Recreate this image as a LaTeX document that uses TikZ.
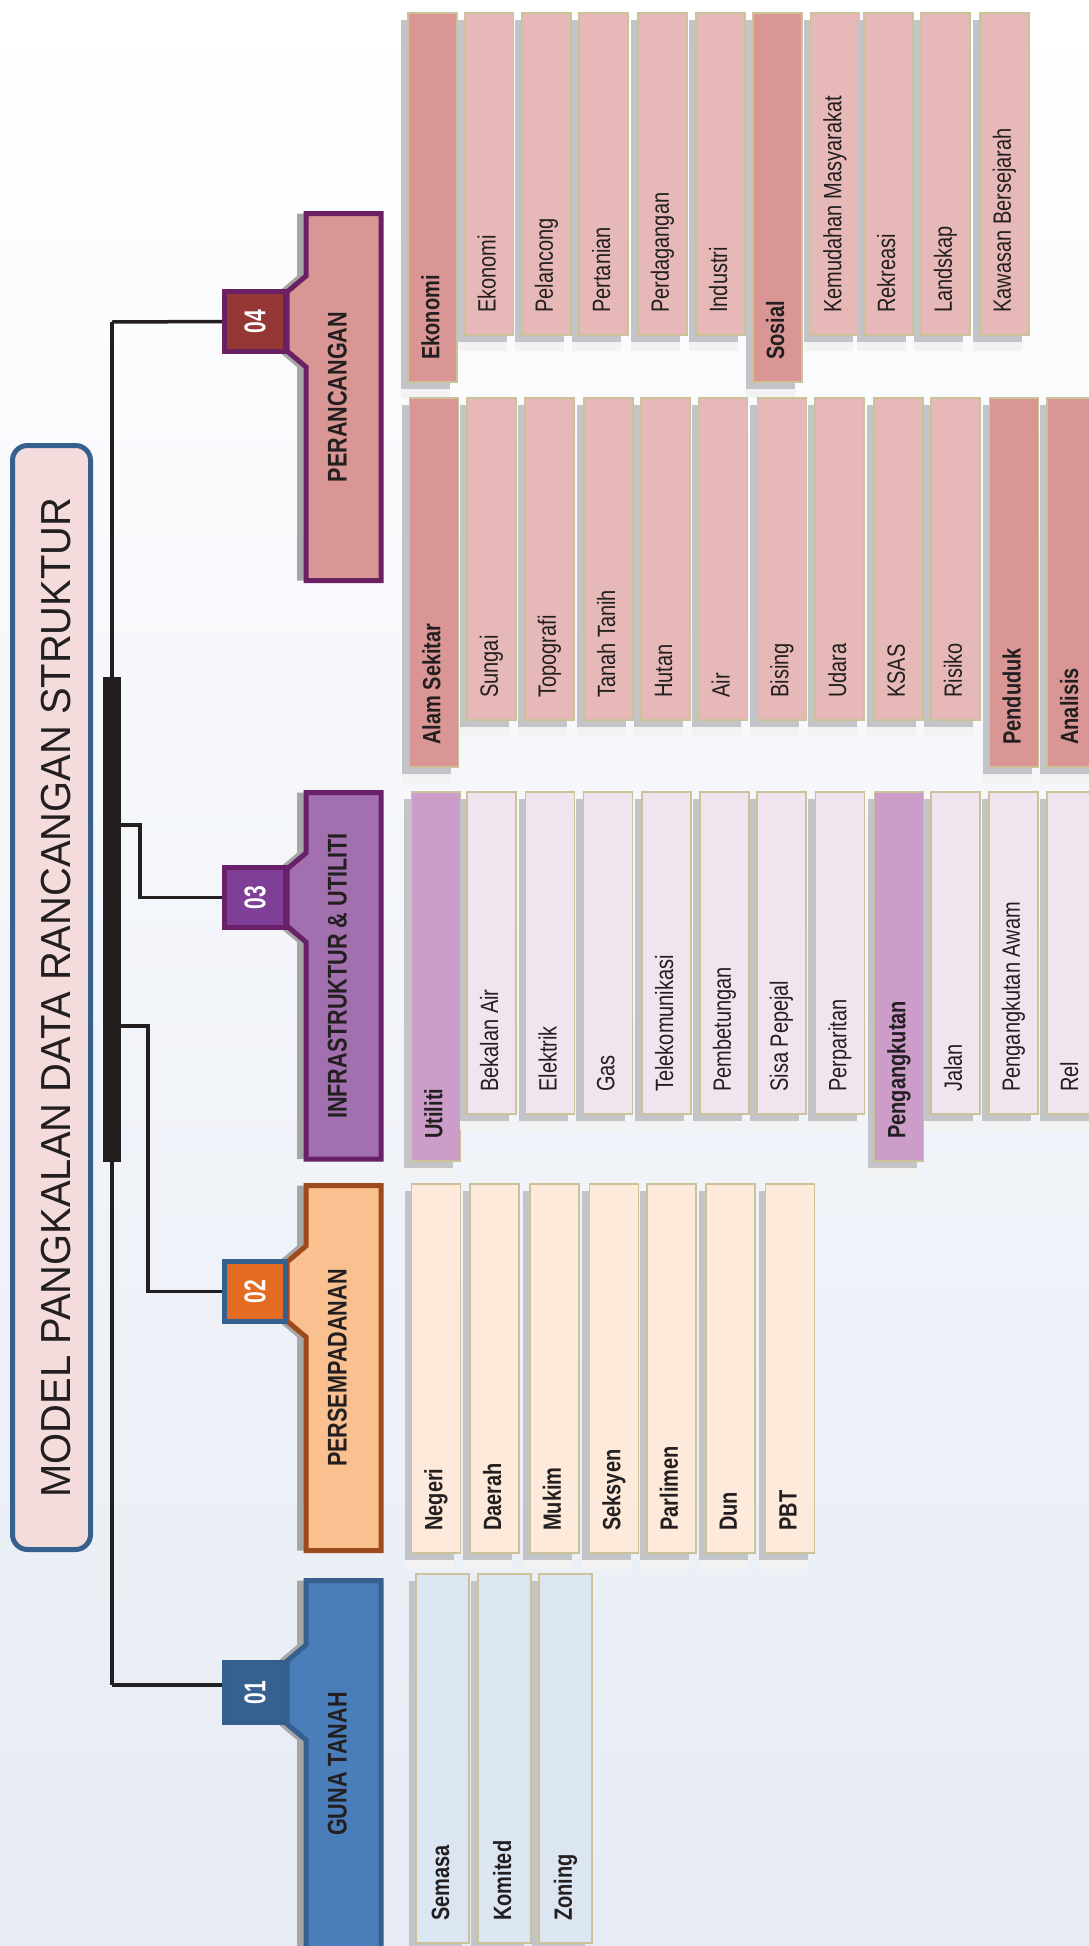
\documentclass[tikz,border=0pt]{standalone}
\usepackage{fontspec}
\setmainfont{Liberation Sans}
\usepackage{graphicx}
\usetikzlibrary{shadows}

\definecolor{ink}{HTML}{231F20}
\definecolor{titlefill}{HTML}{F4DCDC}
\definecolor{titleline}{HTML}{36618F}
\definecolor{khaki}{HTML}{CBC29A}
\definecolor{shgrey}{HTML}{C3C4C7}
\definecolor{catshadow}{HTML}{A6A6A6}
\definecolor{bgmid}{HTML}{F6F7FB}
\definecolor{bgblue}{HTML}{E6EBF4}
\definecolor{guna}{HTML}{4A7EBB}
\definecolor{gunaline}{HTML}{35608E}
\definecolor{gunatab}{HTML}{36618F}
\definecolor{gunaitem}{HTML}{DCE6F2}
\definecolor{sempa}{HTML}{FAC090}
\definecolor{sempaline}{HTML}{9C4A1E}
\definecolor{sempatab}{HTML}{E46C22}
\definecolor{sempaitem}{HTML}{FDEADA}
\definecolor{infra}{HTML}{A270AE}
\definecolor{infraline}{HTML}{682168}
\definecolor{infratab}{HTML}{7F3F98}
\definecolor{infrahead}{HTML}{CC9DC9}
\definecolor{infraitem}{HTML}{F0E4EF}
\definecolor{ranca}{HTML}{D99694}
\definecolor{rancaline}{HTML}{6A2063}
\definecolor{rancatab}{HTML}{953735}
\definecolor{rancahead}{HTML}{D99694}
\definecolor{rancaitem}{HTML}{E6B8B7}

\newcommand{\vtext}[1]{\rotatebox{90}{\scalebox{0.8}[1]{\rule[-5pt]{0pt}{23pt}#1}}}
\newcommand{\vcat}[1]{\rotatebox{90}{\scalebox{0.8}[1]{\rule[-16pt]{0pt}{38pt}#1}}}
\newcommand{\vnum}[1]{\rotatebox{90}{\scalebox{0.7}[1]{#1}}}

\begin{document}
\begin{tikzpicture}[x=1pt, y=-1pt,
  wire/.style={draw=ink, line width=3.5pt},
  catshape/.style={line width=5pt, general shadow={fill=catshadow, shadow xshift=-9pt}},
  tab/.style 2 args={fill=#1, draw=#2, line width=5pt, minimum width=61, minimum height=60, inner sep=0pt, text=white, font=\fontsize{30}{34}\selectfont\bfseries},
  catlabel/.style={inner sep=0pt, text=ink, font=\fontsize{27}{30}\selectfont\bfseries},
  titlebox/.style={draw=titleline, fill=titlefill, line width=5pt, rounded corners=15pt, minimum width=78, minimum height=1104, inner sep=0pt, text=ink, font=\fontsize{42}{50}\selectfont},
  itembox/.style={draw=khaki, line width=1.5pt, fill=#1, minimum width=49, inner xsep=0pt, inner ysep=22pt, text height=278pt, text depth=0pt, anchor=north, text=ink, font=\fontsize{25}{30}\selectfont,
    general shadow={fill=black!5, shadow xshift=-7pt, shadow yshift=-16pt},
    general shadow={fill=shgrey, shadow xshift=-7pt, shadow yshift=-7pt}},
  headbox/.style={itembox=#1, text height=325pt, font=\fontsize{25}{30}\selectfont\bfseries}]
    \useasboundingbox (0,0) rectangle (1089,1946);
    \fill[top color=white, middle color=bgmid, bottom color=bgblue] (0,0) rectangle (1089,1946);

    \node[titlebox] (title) at (51.5,997.5) {\rotatebox{90}{\scalebox{0.95}[1]{\rule[-2pt]{0pt}{42pt}MODEL PANGKALAN DATA RANCANGAN STRUKTUR}}};

    \draw[catshape, draw=rancaline, fill=ranca] (306,213.5) -- (381,213.5) -- (381,580.5) -- (306,580.5) -- (306,367) -- (287,351) -- (287,292) -- (306,276) -- cycle;
    \draw[catshape, draw=infraline, fill=infra] (306,792.5) -- (381,792.5) -- (381,1159) -- (306,1159) -- (306,942) -- (287,926) -- (287,869) -- (306,853) -- cycle;
    \draw[catshape, draw=sempaline, fill=sempa] (306,1185.5) -- (381,1185.5) -- (381,1550.5) -- (306,1550.5) -- (306,1337) -- (287,1321) -- (287,1262) -- (306,1246) -- cycle;
    \draw[catshape, draw=gunaline, fill=guna] (306,1580.5) -- (381,1580.5) -- (381,1955) -- (306,1955) -- (306,1740) -- (287,1724) -- (287,1661) -- (306,1645) -- cycle;

    \node[tab={rancatab}{rancaline}] (t04) at (255,321.5) {\vnum{04}};
    \node[tab={infratab}{infraline}] (t03) at (255,897.5) {\vnum{03}};
    \node[tab={sempatab}{titleline}] (t02) at (255,1291.5) {\vnum{02}};
    \node[tab={gunatab}{gunaline}] (t01) at (255,1692.5) {\vnum{01}};

    \node[catlabel] (c04) at (343.5,397) {\vcat{PERANCANGAN}};
    \node[catlabel] (c03) at (343.5,976) {\vcat{INFRASTRUKTUR \& UTILITI}};
    \node[catlabel] (c02) at (343.5,1368) {\vcat{PERSEMPADANAN}};
    \node[catlabel] (c01) at (343.5,1764) {\vcat{GUNA TANAH}};

    \coordinate (top) at (112,322);
    \coordinate (bot) at (112,1685);
    \draw[wire] (top) -- (bot);
    \draw[wire] (top) -- (t04.west);
    \draw[wire] (bot) -- (bot -| t01.west);
    \node[fill=ink, minimum width=18, minimum height=485, inner sep=0pt] (bar) at (112,919) {};
    \draw[wire] (bar.east |- 0,825) -- (140,825) |- (t03.west);
    \draw[wire] (bar.east |- 0,1026) -- (148,1026) |- (t02.west);

    \node[headbox=rancahead] (ekonomi) at (432.7,12) {\vtext{Ekonomi}};
    \node[itembox=rancaitem] (ekonomi2) at (489,12) {\vtext{Ekonomi}};
    \node[itembox=rancaitem] (pelancong) at (546.5,12) {\vtext{Pelancong}};
    \node[itembox=rancaitem] (pertanian) at (603.5,12) {\vtext{Pertanian}};
    \node[itembox=rancaitem] (perdagangan) at (662.5,12) {\vtext{Perdagangan}};
    \node[itembox=rancaitem] (industri) at (720.5,12) {\vtext{Industri}};
    \node[headbox=rancahead] (sosial) at (777.5,12) {\vtext{Sosial}};
    \node[itembox=rancaitem] (kemudahan) at (835,12) {\vtext{Kemudahan Masyarakat}};
    \node[itembox=rancaitem] (rekreasi) at (888.5,12) {\vtext{Rekreasi}};
    \node[itembox=rancaitem] (landskap) at (945.5,12) {\vtext{Landskap}};
    \node[itembox=rancaitem] (kawasan) at (1004.5,12) {\vtext{Kawasan Bersejarah}};

    \node[headbox=rancahead] (alam) at (433.8,397) {\vtext{Alam Sekitar}};
    \node[itembox=rancaitem] (sungai) at (491.5,397) {\vtext{Sungai}};
    \node[itembox=rancaitem] (topografi) at (549.5,397) {\vtext{Topografi}};
    \node[itembox=rancaitem] (tanah) at (608.5,397) {\vtext{Tanah Tanih}};
    \node[itembox=rancaitem] (hutan) at (665.5,397) {\vtext{Hutan}};
    \node[itembox=rancaitem] (air) at (723,397) {\vtext{Air}};
    \node[itembox=rancaitem] (bising) at (781.8,397) {\vtext{Bising}};
    \node[itembox=rancaitem] (udara) at (839.6,397) {\vtext{Udara}};
    \node[itembox=rancaitem] (ksas) at (898.3,397) {\vtext{KSAS}};
    \node[itembox=rancaitem] (risiko) at (955.3,397) {\vtext{Risiko}};
    \node[headbox=rancahead] (penduduk) at (1014,397) {\vtext{Penduduk}};
    \node[headbox=rancahead] (analisis) at (1071.5,397) {\vtext{Analisis}};

    \node[headbox=infrahead] (utiliti) at (435.8,791) {\vtext{Utiliti}};
    \node[itembox=infraitem] (bekalan) at (491.5,791) {\vtext{Bekalan Air}};
    \node[itembox=infraitem] (elektrik) at (550,791) {\vtext{Elektrik}};
    \node[itembox=infraitem] (gas) at (607.8,791) {\vtext{Gas}};
    \node[itembox=infraitem] (telekom) at (666.5,791) {\vtext{Telekomunikasi}};
    \node[itembox=infraitem] (pembetungan) at (724.3,791) {\vtext{Pembetungan}};
    \node[itembox=infraitem] (sisa) at (781.3,791) {\vtext{Sisa Pepejal}};
    \node[itembox=infraitem] (perparitan) at (839.8,791) {\vtext{Perparitan}};
    \node[headbox=infrahead] (angkut) at (899,791) {\vtext{Pengangkutan}};
    \node[itembox=infraitem] (jalan) at (955.3,791) {\vtext{Jalan}};
    \node[itembox=infraitem] (awam) at (1013.5,791) {\vtext{Pengangkutan Awam}};
    \node[itembox=infraitem] (rel) at (1071.5,791) {\vtext{Rel}};

    \node[headbox=sempaitem] (negeri) at (436,1183) {\vtext{Negeri}};
    \node[headbox=sempaitem] (daerah) at (494.5,1183) {\vtext{Daerah}};
    \node[headbox=sempaitem] (mukim) at (554.3,1183) {\vtext{Mukim}};
    \node[headbox=sempaitem] (seksyen) at (613.8,1183) {\vtext{Seksyen}};
    \node[headbox=sempaitem] (parlimen) at (671.4,1183) {\vtext{Parlimen}};
    \node[headbox=sempaitem] (dun) at (730.3,1183) {\vtext{Dun}};
    \node[headbox=sempaitem] (pbt) at (790,1183) {\vtext{PBT}};

    \node[headbox=gunaitem, minimum width=53] (semasa) at (442.5,1573) {\vtext{Semasa}};
    \node[headbox=gunaitem, minimum width=53] (komited) at (504.5,1573) {\vtext{Komited}};
    \node[headbox=gunaitem, minimum width=53] (zoning) at (565.5,1573) {\vtext{Zoning}};
\end{tikzpicture}
\end{document}
